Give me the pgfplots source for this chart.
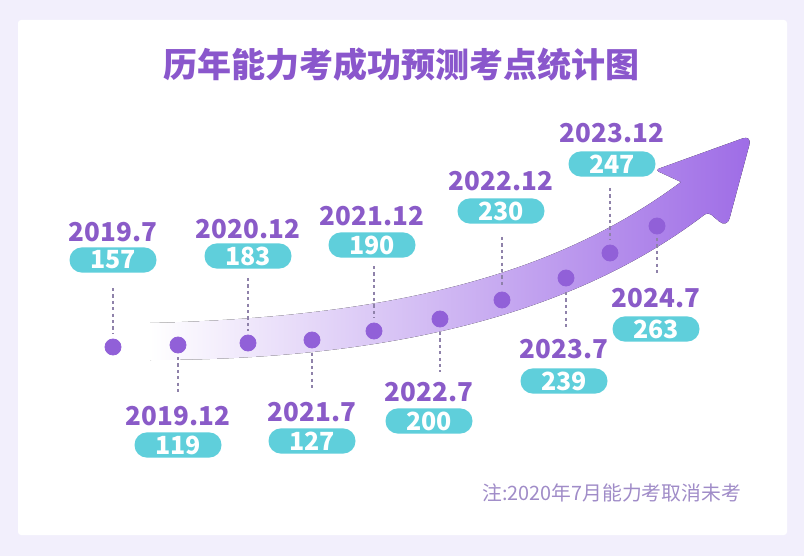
\documentclass[border=0pt]{standalone}
\usepackage{pgfplots}
\pgfplotsset{compat=1.18}
\usepackage{pgfplotstable}
\usepackage{fontspec}
\setmainfont{Noto Sans CJK SC}
\definecolor{bgout}{HTML}{F2EFFC}
\definecolor{titlec}{HTML}{8A57CC}
\definecolor{datec}{HTML}{8A5BC8}
\definecolor{boxc}{HTML}{5FCFDB}
\definecolor{pointc}{HTML}{9160D8}
\definecolor{dashc}{HTML}{8F82AA}
\definecolor{notec}{HTML}{A08CC8}
\definecolor{arrowR}{HTML}{9E6CE6}
\definecolor{arrowM}{HTML}{DCCBF7}

% point positions (pixel grid, y downward) of the ten exams
\pgfplotstableread{
x y
113 347
178 345
248 343
312 340
374 331
440 319
502 300
566 278
610 253
657 226
}\points

\newcommand{\lab}[5]{%
  \node[font=\bfseries\fontsize{13}{13}\selectfont, text=datec] at (axis cs:#1,#2) {#4};
  \node[fill=boxc, rounded corners=6.2pt, minimum width=43.5pt, minimum height=12.6pt,
        inner sep=0pt, text=white, font=\bfseries\fontsize{12.5}{12.5}\selectfont]
        at (axis cs:#1,#3) {#5};
}

\begin{document}
\begin{tikzpicture}
\begin{axis}[
  width=402pt, height=278pt, scale only axis,
  xmin=0, xmax=804, ymin=0, ymax=556, y dir=reverse,
  hide axis, clip=false]
% background
\fill[bgout] (axis cs:0,0) rectangle (axis cs:804,556);
\fill[white, rounded corners=1.5pt] (axis cs:18,20) rectangle (axis cs:787,535);
% title
\node[font=\bfseries\fontsize{17}{17}\selectfont, text=titlec] at (axis cs:401,65) {历年能力考成功预测考点统计图};
% arrow
\fill[left color=white, middle color=arrowM, right color=arrowR]
  (axis cs:150,323) .. controls (axis cs:400,317) and (axis cs:560,272) .. (axis cs:681,182)
  [rounded corners=2pt] -- (axis cs:655,170) [rounded corners=5pt] -- (axis cs:752,135) -- (axis cs:727,228)
  [rounded corners=2pt] -- (axis cs:708,212) [sharp corners]
  .. controls (axis cs:585,306) and (axis cs:410,360) .. (axis cs:150,360) -- cycle;
% dashed leader lines
\addplot[dashc, line width=0.9pt, dash pattern=on 1.6pt off 1.6pt, unbounded coords=jump] coordinates {
 (113,288) (113,334) (113,nan)
 (178,357) (178,393) (178,nan)
 (248,278) (248,331) (248,nan)
 (312,353) (312,390) (312,nan)
 (374,266) (374,318) (374,nan)
 (440,332) (440,372) (440,nan)
 (502,237) (502,287) (502,nan)
 (566,292) (566,330) (566,nan)
 (610,188) (610,240) (610,nan)
 (657,238) (657,275)
};
% points
\addplot[only marks, mark=*, mark size=4pt, color=pointc] table[x=x,y=y] {\points};
% labels: x, date y, box y, date, value
\lab{113}{232}{260}{2019.7}{157}
\lab{178}{416}{445}{2019.12}{119}
\lab{248}{229}{256}{2020.12}{183}
\lab{312}{412}{441}{2021.7}{127}
\lab{372}{216}{245}{2021.12}{190}
\lab{429}{392}{421}{2022.7}{200}
\lab{501}{181}{211}{2022.12}{230}
\lab{564}{349}{381}{2023.7}{239}
\lab{612}{133}{164}{2023.12}{247}
\lab{656}{298}{329}{2024.7}{263}
% note
\node[anchor=east, font=\fontsize{9.9}{10}\selectfont, text=notec] at (axis cs:748,493) {注:2020年7月能力考取消未考};
\end{axis}
\end{tikzpicture}
\end{document}
